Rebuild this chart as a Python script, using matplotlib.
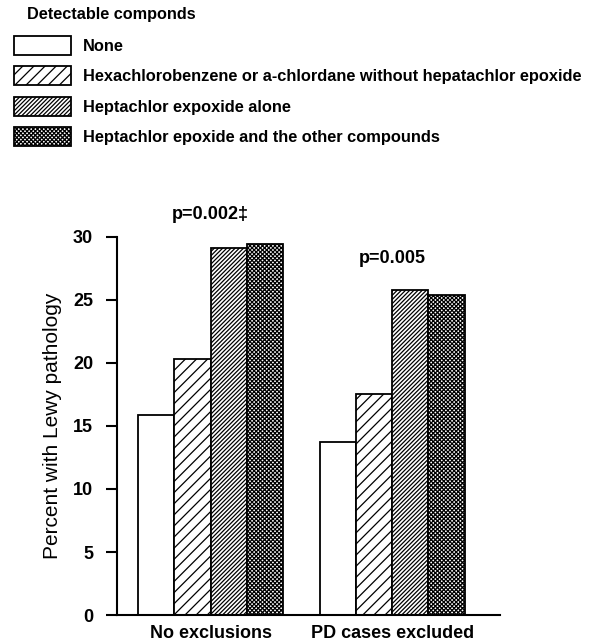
import matplotlib
matplotlib.use("Agg")
import matplotlib.pyplot as plt
import numpy as np

plt.rcParams["font.family"] = ["Liberation Sans", "DejaVu Sans"]
plt.rcParams["hatch.linewidth"] = 0.9

groups = ["No exclusions", "PD cases excluded"]
compounds = [
    "None",
    "Hexachlorobenzene or a-chlordane without hepatachlor epoxide",
    "Heptachlor expoxide alone",
    "Heptachlor epoxide and the other compounds",
]
values = [
    [15.9, 13.7],
    [20.3, 17.5],
    [29.1, 25.8],
    [29.4, 25.4],
]
p_labels = ["p=0.002\u2021", "p=0.005"]
p_heights = [31.8, 28.25]
hatches = [None, "///", "////////", "xxxxxxxx"]

fig = plt.figure(figsize=(5.96, 6.42), dpi=100)
ax = fig.add_axes([0.196, 0.042, 0.643, 0.589])

group_starts = np.array([0, 5])
handles = []
for i, name in enumerate(compounds):
    b = ax.bar(group_starts + i, values[i], width=1, align="edge",
               color="white", edgecolor="black", linewidth=1.3,
               hatch=hatches[i], label=name)
    handles.append(b)

for gx, lab, ph in zip(group_starts + 2, p_labels, p_heights):
    ax.text(gx, ph, lab, ha="center", va="center", fontsize=13,
            fontweight="bold")

ax.set_xlim(-0.58, 9.97)
ax.set_ylim(0, 30)
ax.set_yticks([0, 5, 10, 15, 20, 25, 30])
ax.set_xticks(group_starts + 2)
ax.set_xticklabels(groups, fontsize=13, fontweight="bold")
ax.tick_params(axis="x", length=0, pad=7)
ax.tick_params(axis="y", length=8, width=1.5, labelsize=13, pad=9)
for t in ax.get_yticklabels():
    t.set_fontweight("bold")
ax.set_ylabel("Percent with Lewy pathology", fontsize=15, labelpad=8)
for s in ["top", "right"]:
    ax.spines[s].set_visible(False)
ax.spines["left"].set_linewidth(1.5)
ax.spines["bottom"].set_linewidth(1.5)

# legend block at the top
fig.text(27 / 596, 1 - 15 / 642, "Detectable componds", fontsize=11.7,
         fontweight="bold", va="center", ha="left")
fig.legend(handles=handles, loc="upper left",
           bbox_to_anchor=(14 / 596, 1 - 36 / 642),
           frameon=False, borderpad=0, borderaxespad=0,
           handlelength=3.5, handleheight=1.42,
           labelspacing=0.68, handletextpad=0.68,
           prop={"weight": "bold", "size": 11.8})

fig.savefig("out.png", dpi=100)
